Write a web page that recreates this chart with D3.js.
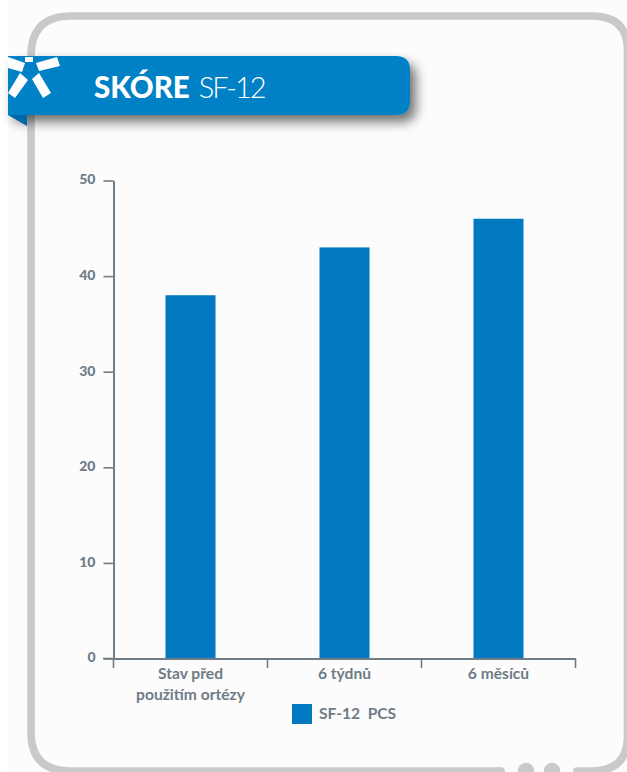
<!DOCTYPE html>
<html><head><meta charset="utf-8">
<script src="https://cdn.jsdelivr.net/npm/d3@7/dist/d3.min.js"></script>
<style>
html,body{margin:0;padding:0;background:#fff;overflow:hidden}
svg{display:block}
text{font-family:Lato,"Open Sans",sans-serif}
</style></head><body>
<svg id="c" width="627" height="772"></svg>
<script>
const categories=[["Stav před","použitím ortézy"],["6 týdnů"],["6 měsíců"]];
const values=[38,43,46];
const yTicks=[0,10,20,30,40,50];
const seriesName="SF-12  PCS";
const titleBold="SKÓRE";
const titleLight="SF-12";

const svg=d3.select("#c");
const defs=svg.append("defs");
const f=defs.append("filter").attr("id","sh").attr("x","-5%").attr("y","-30%").attr("width","115%").attr("height","180%");
f.append("feGaussianBlur").attr("in","SourceAlpha").attr("stdDeviation",6).attr("result","b");
f.append("feOffset").attr("in","b").attr("dx",6).attr("dy",7).attr("result","o");
f.append("feComponentTransfer").attr("in","o").attr("result","a").append("feFuncA").attr("type","linear").attr("slope",0.55);
const m=f.append("feMerge");m.append("feMergeNode").attr("in","a");m.append("feMergeNode").attr("in","SourceGraphic");

svg.append("rect").attr("x",8).attr("y",0).attr("width",619).attr("height",772).attr("fill","#fcfcfc");
// frame
svg.append("path").attr("fill","none").attr("stroke","#c8c9cb").attr("stroke-width",7.6).attr("stroke-linecap","round")
 .attr("d","M501,771 H70 Q31,771 31,732 V56 Q31,16 71,16 H592 Q627.5,16 627.5,50 V736 Q627.5,771 592,771 H577");
svg.selectAll("circle.dot").data([526,552]).join("circle").attr("class","dot").attr("cx",d=>d).attr("cy",771).attr("r",8.3).attr("fill","#c8c9cb");

// banner
svg.append("path").attr("filter","url(#sh)").attr("fill","#0081c6")
 .attr("d","M8,56 H396 Q410,56 410,70 V101 Q410,115 396,115 H8 Z");
svg.append("path").attr("d","M8,115 L27,115 L27,126 Z").attr("fill","#0068a8");
// star logo
const star=svg.append("g").attr("fill","#fff");
star.append("path").attr("d","M25,57 H33 V62 H25 Z");
star.append("path").attr("d","M8,57 L25,63 L22,72 L8,68 Z");
star.append("path").attr("d","M36,63 L57,57 L60,66 L39,71 Z");
star.append("path").attr("d","M20,73 L28,80 L15,98 L8,93 Z");
star.append("path").attr("d","M32,79 L39,73 L51,93 L43,98 Z");
const title=svg.append("text").attr("x",94).attr("y",98).attr("fill","#fff");
title.append("tspan").attr("font-weight",900).attr("font-size",29.5).text(titleBold);
title.append("tspan").attr("font-weight",300).attr("font-size",29).attr("dx",9).attr("letter-spacing",-2).text(titleLight);

// chart
const ink="#6f7b86";
const axisInk="#6f7d88";
const x=d3.scaleBand().domain(categories.map(d=>d.join(" "))).range([113.5,575.5]);
const y=d3.scaleLinear().domain([0,50]).range([658.5,180.5]);
const g=svg.append("g");
g.selectAll("rect.bar").data(values).join("rect").attr("class","bar")
 .attr("x",(d,i)=>x(categories[i].join(" "))+x.bandwidth()/2-25)
 .attr("width",50).attr("y",d=>y(d)).attr("height",d=>y(0)-y(d)).attr("fill","#0079c1");
const ya=g.append("g").attr("transform","translate(113.5,0)").call(d3.axisLeft(y).tickValues(yTicks).tickSize(10).tickPadding(8).tickSizeOuter(0));
ya.select(".domain").attr("stroke",axisInk).attr("stroke-width",2);
ya.selectAll(".tick line").attr("stroke",axisInk).attr("stroke-width",1.6);
ya.selectAll(".tick text").attr("fill",ink).attr("font-size",14).attr("font-weight",900).attr("dy","0.24em").style("font-family","Lato");
const xa=g.append("g").attr("transform","translate(0,658.5)").call(d3.axisBottom(x).tickValues([]).tickSizeOuter(0));
xa.select(".domain").attr("stroke",axisInk).attr("stroke-width",2);
g.selectAll("line.xt").data([113.5,267.5,421.5,575.5]).join("line").attr("class","xt")
 .attr("x1",d=>d).attr("x2",d=>d).attr("y1",658.5).attr("y2",668).attr("stroke",axisInk).attr("stroke-width",1.6);
g.append("line").attr("x1",103).attr("x2",113.5).attr("y1",658.5).attr("y2",658.5).attr("stroke",axisInk).attr("stroke-width",1.6);
categories.forEach(c=>{
 const t=g.append("text").attr("text-anchor","middle").attr("fill",ink).attr("font-size",15.6).attr("font-weight",700);
 c.forEach((s,i)=>t.append("tspan").attr("x",x(c.join(" "))+x.bandwidth()/2).attr("y",679+i*20.5).text(s));
});
// legend
svg.append("rect").attr("x",292).attr("y",704).attr("width",20).attr("height",20).attr("fill","#0079c1");
svg.append("text").attr("x",319).attr("y",718.5).attr("fill",ink).attr("font-size",15.6).attr("font-weight",700).style("white-space","pre").text(seriesName);
</script>
</body></html>
